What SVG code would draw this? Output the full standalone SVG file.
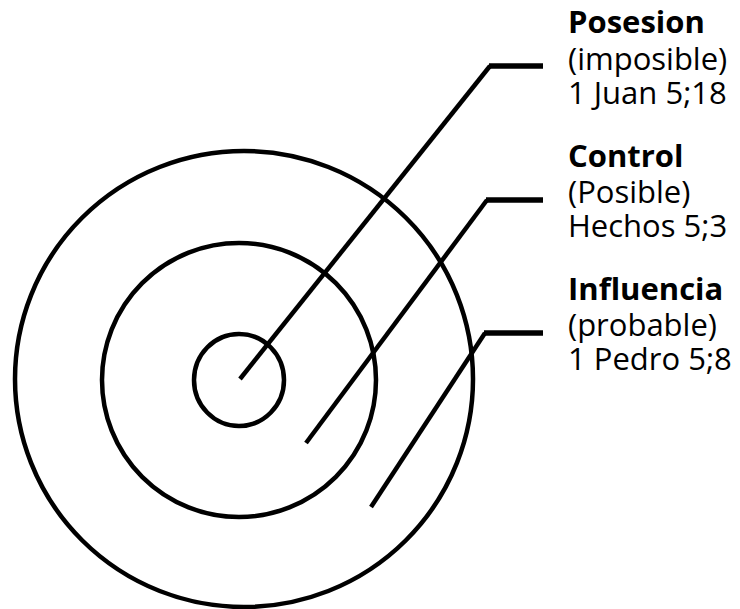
<svg xmlns="http://www.w3.org/2000/svg" width="740" height="609" viewBox="0 0 740 609">
<style>
.ring{fill:none;stroke:#000;stroke-width:4.5}
.lead{fill:none;stroke:#000;stroke-width:4.5;stroke-linejoin:bevel}
.hz{stroke:#000;stroke-width:5.5}
text{font-family:"Open Sans","Liberation Sans",sans-serif;font-size:31px;fill:#000}
.h{font-weight:bold}
</style>
<rect width="740" height="609" fill="#fff"/>
<g id="rings">
<g id="outer"><ellipse class="ring" cx="244" cy="379" rx="229" ry="228"/></g>
<g id="middle"><ellipse class="ring" cx="239" cy="380" rx="137" ry="137"/></g>
<g id="inner"><ellipse class="ring" cx="239" cy="380" rx="45" ry="46"/></g>
</g>
<g id="connectors">
<polyline class="lead" points="240,379 490,66"/>
<line class="hz" x1="489" y1="66" x2="543" y2="66"/>
<polyline class="lead" points="306,443 487,200"/>
<line class="hz" x1="486" y1="200" x2="543" y2="200"/>
<polyline class="lead" points="371,507 485,333"/>
<line class="hz" x1="484" y1="333" x2="543" y2="333"/>
</g>
<g id="posesion">
<text x="568" y="33" class="h">Posesion</text>
<text x="568" y="70">(imposible)</text>
<text x="568" y="104">1 Juan 5;18</text>
</g>
<g id="control">
<text x="568" y="167" class="h">Control</text>
<text x="568" y="203">(Posible)</text>
<text x="568" y="237">Hechos 5;3</text>
</g>
<g id="influencia">
<text x="568" y="300" class="h">Influencia</text>
<text x="568" y="336">(probable)</text>
<text x="568" y="370">1 Pedro 5;8</text>
</g>
</svg>
